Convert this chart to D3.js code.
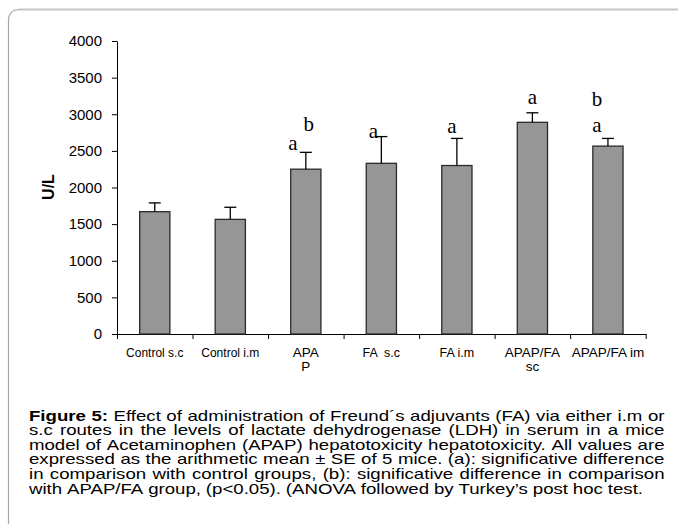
<!DOCTYPE html>
<html>
<head>
<meta charset="utf-8">
<script src="https://cdn.jsdelivr.net/npm/d3@7"></script>
<style>
  body { margin: 0; background: #fff; }
  svg { display: block; }
</style>
</head>
<body>
<svg id="fig" width="678" height="524"></svg>
<script>
// DATA
const groups = ['Control s.c', 'Control i.m', 'APAP', 'FA s.c', 'FA i.m', 'APAP/FA sc', 'APAP/FA im'];
const groupLabels = [['Control s.c'], ['Control i.m'], ['APA', 'P'], ['FA  s.c'], ['FA i.m'], ['APAP/FA', 'sc'], ['APAP/FA im']];
const means = [1670, 1565, 2250, 2330, 2300, 2890, 2565];
const errors = [120, 165, 230, 365, 370, 130, 105];
const sigA = ['', '', 'a', 'a', 'a', 'a', 'a'];
const sigB = ['', '', 'b', '', '', '', 'b'];
const yTicks = [0, 500, 1000, 1500, 2000, 2500, 3000, 3500, 4000];
const yLabel = 'U/L';
const captionBold = 'Figure 5:';
const captionLines = [
  'Figure 5: Effect of administration of Freund´s adjuvants (FA) via either i.m or',
  's.c routes in the levels of lactate dehydrogenase (LDH) in serum in a mice',
  'model of Acetaminophen (APAP) hepatotoxicity hepatotoxicity. All values are',
  'expressed as the arithmetic mean ± SE of 5 mice. (a): significative difference',
  'in comparison with control groups, (b): significative difference in comparison',
  'with APAP/FA group, (p<0.05). (ANOVA followed by Turkey’s post hoc test.'
];

// letter placement relative to the error cap (layout only)
const aOffset = [null, null, [-13, -2], [-8, 1], [-5, -5], [0, -9], [-11, -6]];
const bOffset = [null, null, [3, -21], null, null, null, [-11, -32]];

const svg = d3.select('#fig');
const sans = '"Liberation Sans", Arial, sans-serif';
const serif = '"Liberation Serif", "Times New Roman", serif';

// FRAME
svg.append('path')
  .attr('d', 'M8.5,524 L8.5,21 Q8.5,9.5 20,9.5')
  .attr('fill', 'none').attr('stroke', '#a8a8a8').attr('stroke-width', 1.2);
svg.append('path')
  .attr('d', 'M19,9.5 L678,9.5')
  .attr('fill', 'none').attr('stroke', '#c4c4c4').attr('stroke-width', 2);

// SCALES
const plot = { left: 117, right: 645.7, top: 41, bottom: 334 };

const x = d3.scaleBand()
  .domain(groups)
  .range([plot.left, plot.right])
  .padding(0.6)
  .paddingOuter(0.3);

const xEdge = d3.scaleLinear()
  .domain([0, groups.length])
  .range([plot.left, plot.right]);

const y = d3.scaleLinear()
  .domain([0, 4000])
  .range([plot.bottom, plot.top]);

// AXES
const yAxis = svg.append('g')
  .attr('transform', `translate(${plot.left},0)`)
  .call(d3.axisLeft(y).tickValues(yTicks).tickFormat(d3.format('d')).tickSize(5).tickPadding(10).tickSizeOuter(0));
yAxis.selectAll('text').style('font-family', sans).style('font-size', '15px').attr('fill', '#000');
yAxis.selectAll('line, path').attr('stroke', '#000');

const xAxis = svg.append('g')
  .attr('transform', `translate(0,${plot.bottom})`)
  .call(d3.axisBottom(xEdge).tickValues(d3.range(groups.length + 1)).tickSize(5).tickSizeOuter(0).tickFormat(''));
xAxis.selectAll('line, path').attr('stroke', '#000');

// group labels
groups.forEach((g, i) => {
  const big = g.startsWith('APA');
  const t = svg.append('text')
    .attr('x', x(g) + x.bandwidth() / 2)
    .attr('y', plot.bottom + 23)
    .attr('text-anchor', 'middle')
    .style('font-family', sans)
    .style('font-size', big ? '13.5px' : (g.startsWith('FA') ? '12.5px' : '12px'))
    .style('white-space', 'pre')
    .attr('fill', '#000');
  groupLabels[i].forEach((line, k) => {
    t.append('tspan')
      .attr('x', x(g) + x.bandwidth() / 2)
      .attr('dy', k === 0 ? 0 : 14)
      .text(line);
  });
});

// y label
svg.append('text')
  .attr('transform', 'translate(54,187) rotate(-90)')
  .attr('text-anchor', 'middle')
  .style('font-family', sans)
  .style('font-size', '16px')
  .style('font-weight', 'bold')
  .attr('fill', '#000')
  .text(yLabel);

// BARS
const data = groups.map((g, i) => ({ g, mean: means[i], se: errors[i], a: sigA[i], b: sigB[i], i }));

svg.selectAll('.bar')
  .data(data)
  .enter()
  .append('rect')
  .classed('bar', true)
  .attr('x', (d) => x(d.g))
  .attr('y', (d) => y(d.mean))
  .attr('width', x.bandwidth())
  .attr('height', (d) => y(0) - y(d.mean))
  .attr('fill', '#969696')
  .attr('stroke', '#2a2a2a')
  .attr('stroke-width', 1.3);

// ERROR BARS
const cx = (d) => x(d.g) + x.bandwidth() / 2;
const err = svg.selectAll('.err').data(data).enter().append('g').classed('err', true);
err.append('line')
  .attr('x1', cx).attr('x2', cx)
  .attr('y1', (d) => y(d.mean)).attr('y2', (d) => y(d.mean + d.se))
  .attr('stroke', '#000').attr('stroke-width', 1.3);
err.append('line')
  .attr('x1', (d) => cx(d) - 6).attr('x2', (d) => cx(d) + 6)
  .attr('y1', (d) => y(d.mean + d.se)).attr('y2', (d) => y(d.mean + d.se))
  .attr('stroke', '#000').attr('stroke-width', 1.3);

// SIGNIFICANCE LETTERS
function letter(d, txt, off) {
  if (!txt || !off) return;
  svg.append('text')
    .attr('x', cx(d) + off[0])
    .attr('y', y(d.mean + d.se) + off[1])
    .attr('text-anchor', 'middle')
    .style('font-family', serif)
    .style('font-size', '21px')
    .attr('fill', '#000')
    .text(txt);
}
data.forEach((d) => {
  letter(d, d.a, aOffset[d.i]);
  letter(d, d.b, bOffset[d.i]);
});

// CAPTION (justified lines, text is a bit wide in the original)
const cap = { left: 29, right: 664.5, lastRight: 643, top: 420.7, lineHeight: 14.6, size: 15 };
const capG = svg.append('g')
  .style('font-family', sans)
  .style('font-size', cap.size + 'px')
  .attr('fill', '#000');

function captionWords(line, li) {
  let boldLeft = li === 0 ? captionBold.split(' ').length : 0;
  return line.split(' ').map((w) => {
    const bold = boldLeft > 0;
    boldLeft -= 1;
    return { w, bold };
  });
}

// horizontal stretch found from the last (unjustified) line
const probe = capG.append('text').text(captionLines[captionLines.length - 1]);
const sx = (cap.lastRight - cap.left) / probe.node().getComputedTextLength();
probe.remove();
capG.attr('transform', `scale(${sx},1)`);

captionLines.forEach((line, li) => {
  const words = captionWords(line, li);
  const t = capG.append('text').attr('y', cap.top + li * cap.lineHeight);
  const spans = words.map((d) =>
    t.append('tspan').style('font-weight', d.bold ? 'bold' : null).text(d.w)
  );
  const widths = spans.map((s) => s.node().getComputedTextLength());
  const total = d3.sum(widths);
  const last = li === captionLines.length - 1;
  const gap = last
    ? (cap.lastRight - cap.left) / sx - total === 0 ? 0 : ((cap.lastRight - cap.left) / sx - total) / (words.length - 1)
    : ((cap.right - cap.left) / sx - total) / (words.length - 1);
  let px = cap.left / sx;
  spans.forEach((s, k) => {
    s.attr('x', px);
    px += widths[k] + gap;
  });
});
</script>
</body>
</html>
